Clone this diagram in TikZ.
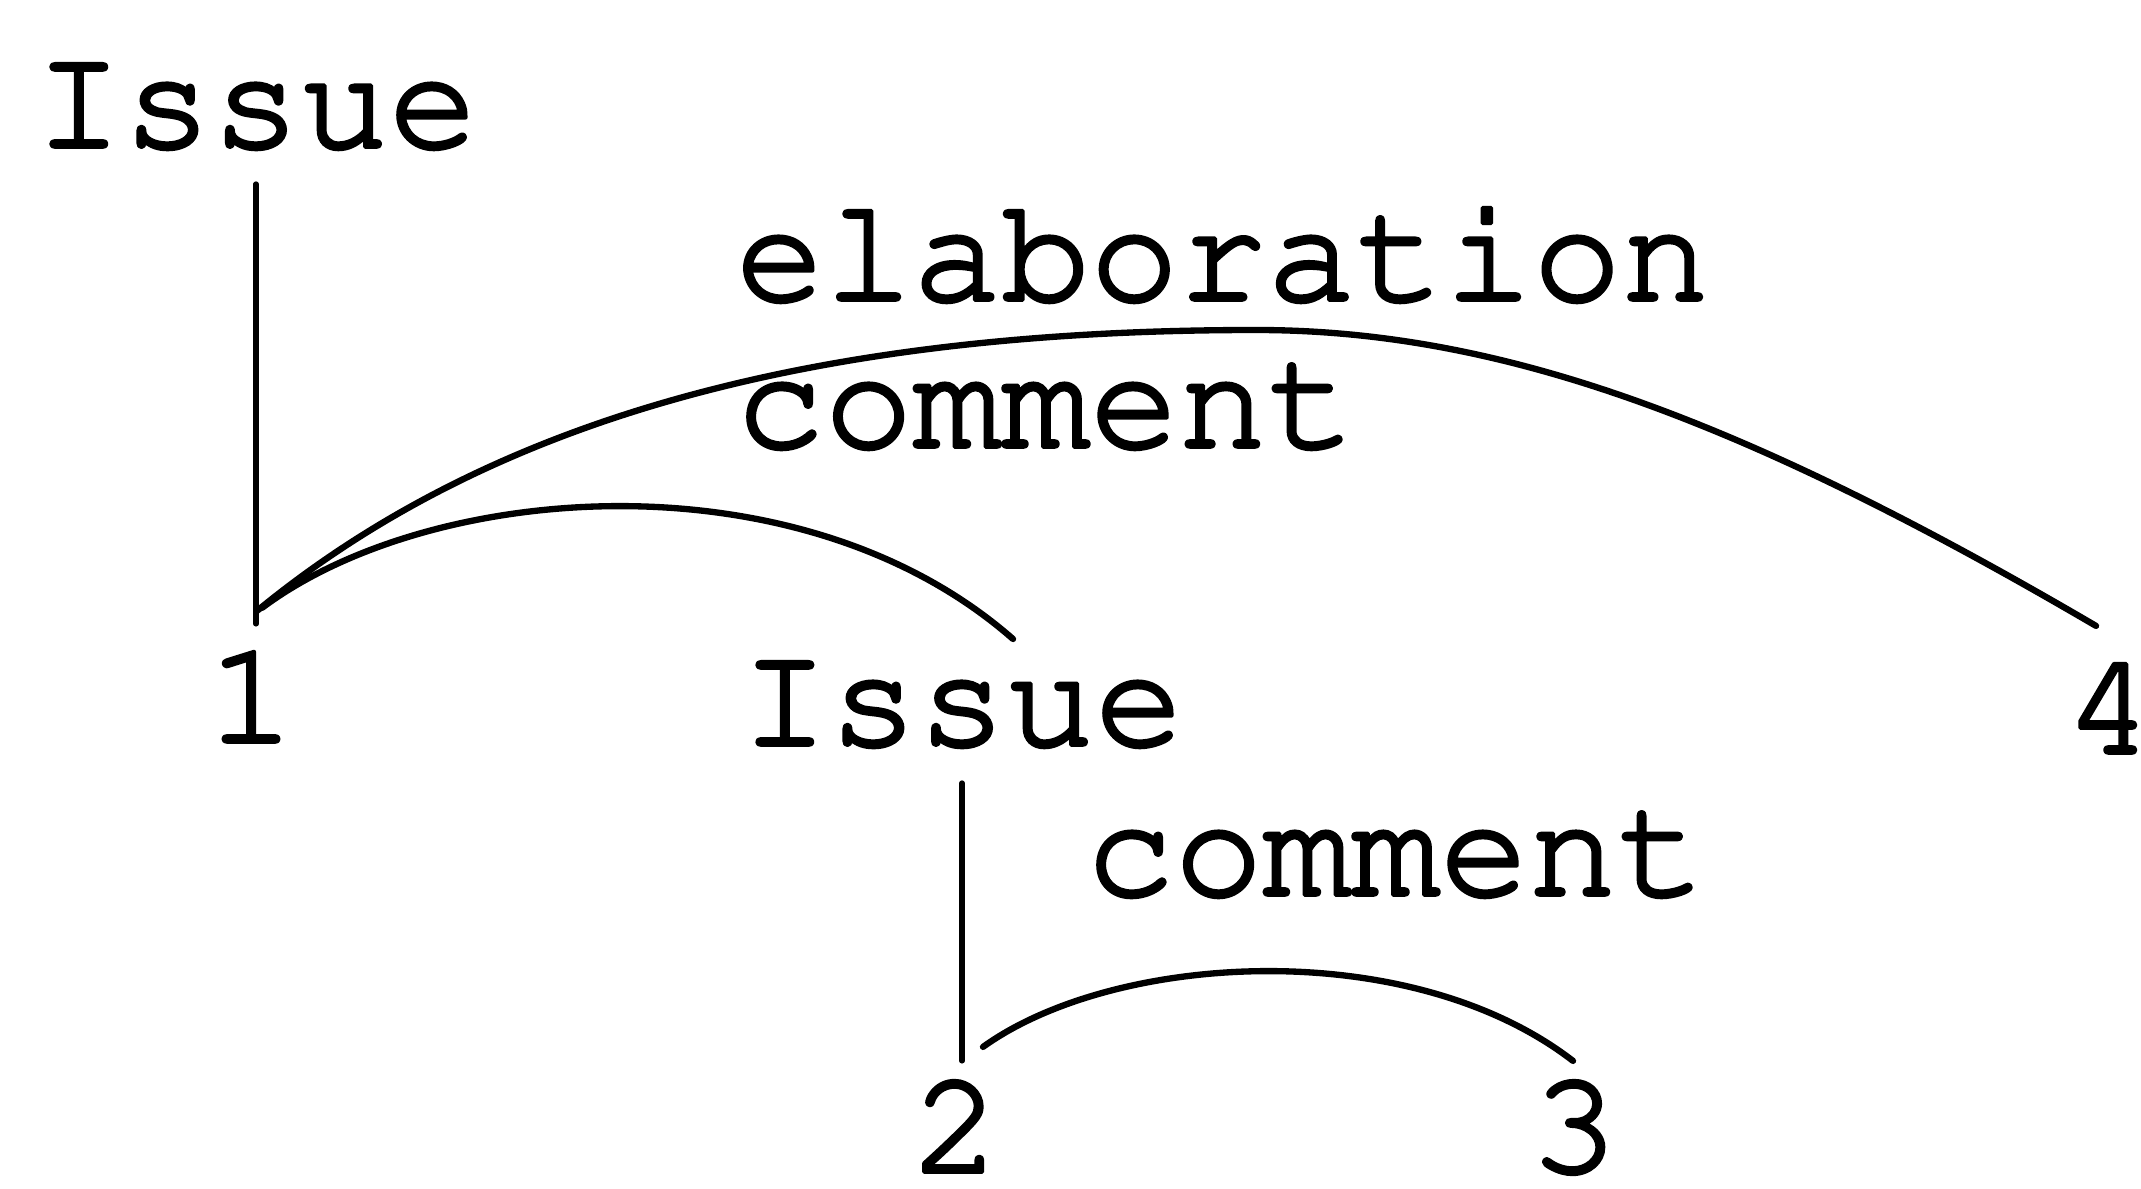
\documentclass[tikz,border=0pt]{standalone}
\usepackage[T1]{fontenc}
\usepackage{courier}
\usepackage{tikz}
\usetikzlibrary{positioning, calc}
\newcommand{\inked}{\special{pdf:literal direct 2 Tr 1.1 w 1 j}}
\tikzstyle{word} = [inner sep=0pt, anchor=base, font=\fontsize{42}{50}\selectfont\ttfamily\inked]
\tikzstyle{link} = [line width=1.8pt, line cap=round]

\begin{document}
\begin{tikzpicture}[x=0.1mm, y=-0.1mm]
  \useasboundingbox (0,0) rectangle (2141,1189);

  % words
  \node[word] (issueA) at (256,147) {Issue};
  \node[word] (one) at (251,742) {1};
  \node[word] (issueB) at (962,745) {Issue};
  \node[word] (four) at (2109,753) {4};
  \node[word] (two) at (956,1172) {2};
  \node[word] (three) at (1574,1172) {3};

  % relation labels
  \node[word, anchor=base west] (elabLbl) at (735,300) {elaboration};
  \node[word, anchor=base west] (commentA) at (735,447) {comment};
  \node[word, anchor=base west] (commentB) at (1085,895) {comment};

  \draw[link, line width=1.5pt, shorten <=0.34cm, shorten >=0.23cm] (issueA.south) -- (issueA.south |- one.north);
  \draw[link, line width=1.5pt, shorten <=0.35cm, shorten >=0.16cm] (issueB.south) -- (issueB.south |- two.north);

  \draw[link] ([shift={(6,-36)}]one.north) .. controls (487,422) and (806,330) .. (1256,330)
    .. controls (1506,330) and (1751,424) .. ([shift={(-13,-32)}]four.north);
  \draw[link] ([shift={(11,-39)}]one.north) .. controls (430,482) and (800,452) .. ([shift={(51,-23)}]issueB.north);
  \draw[link] ([shift={(27,-30)}]two.north) .. controls (1115,952) and (1410,935) .. ([shift={(-1,-16)}]three.north);
\end{tikzpicture}
\end{document}
